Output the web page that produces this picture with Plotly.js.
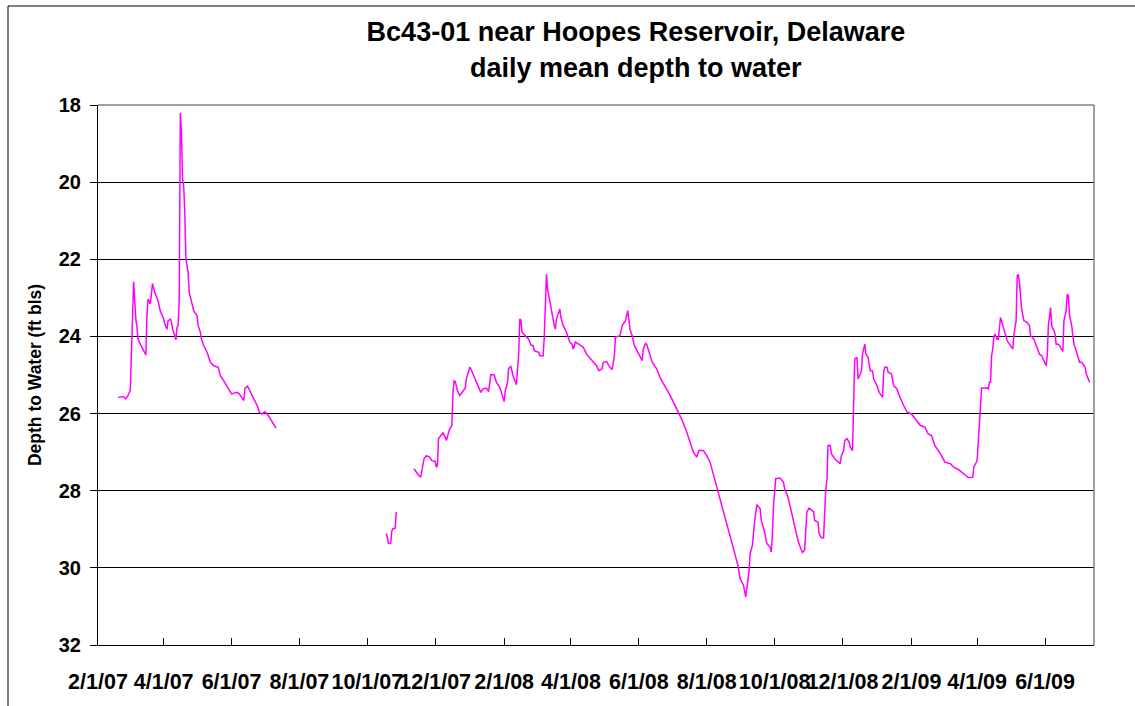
<!DOCTYPE html>
<html>
<head>
<meta charset="utf-8">
<script src="https://cdn.plot.ly/plotly-3.0.1.min.js"></script>
<style>
  html, body { margin: 0; padding: 0; background: #ffffff; }
  #chart { width: 1135px; height: 706px; }
</style>
</head>
<body>
<div id="chart"></div>
<script>
// ---- Data ----
const seg1Dates = ["2007-02-19","2007-02-24","2007-02-26","2007-02-28","2007-03-02","2007-03-03","2007-03-04","2007-03-05","2007-03-06","2007-03-07","2007-03-08","2007-03-09","2007-03-11","2007-03-14","2007-03-16","2007-03-17","2007-03-18","2007-03-20","2007-03-21","2007-03-22","2007-03-24","2007-03-27","2007-03-29","2007-04-01","2007-04-02","2007-04-04","2007-04-05","2007-04-07","2007-04-08","2007-04-09","2007-04-11","2007-04-12","2007-04-13","2007-04-14","2007-04-15","2007-04-16","2007-04-17","2007-04-18","2007-04-19","2007-04-20","2007-04-21","2007-04-23","2007-04-24","2007-04-26","2007-04-28","2007-05-01","2007-05-02","2007-05-04","2007-05-05","2007-05-07","2007-05-10","2007-05-13","2007-05-16","2007-05-20","2007-05-22","2007-05-25","2007-05-29","2007-06-01","2007-06-06","2007-06-08","2007-06-10","2007-06-12","2007-06-13","2007-06-15","2007-06-16","2007-06-18","2007-06-21","2007-06-24","2007-06-26","2007-06-28","2007-07-01","2007-07-04","2007-07-07","2007-07-11"];
const seg1Depth = [25.58,25.56,25.62,25.53,25.40,24.67,23.55,22.58,23.29,23.55,23.76,24.07,24.20,24.37,24.48,23.46,23.03,23.16,22.82,22.63,22.86,23.08,23.34,23.55,23.68,23.81,23.59,23.55,23.64,23.81,23.98,24.09,23.76,23.72,23.03,18.20,18.72,19.93,20.10,20.79,22.00,22.34,22.86,23.12,23.33,23.46,23.72,23.89,24.07,24.24,24.41,24.67,24.76,24.80,25.02,25.15,25.36,25.49,25.45,25.49,25.58,25.66,25.36,25.29,25.32,25.45,25.62,25.79,25.96,26.01,25.95,26.05,26.18,26.38];

const seg2Dates = ["2007-10-18","2007-10-19","2007-10-20","2007-10-22","2007-10-23","2007-10-24","2007-10-26","2007-10-27"];
const seg2Depth = [29.11,29.20,29.37,29.37,29.05,28.98,28.98,28.55];

const seg3Dates = ["2007-11-12","2007-11-16","2007-11-18","2007-11-20","2007-11-21","2007-11-23","2007-11-26","2007-11-28","2007-12-01","2007-12-02","2007-12-03","2007-12-04","2007-12-06","2007-12-08","2007-12-10","2007-12-11","2007-12-14","2007-12-16","2007-12-17","2007-12-18","2007-12-19","2007-12-21","2007-12-23","2007-12-26","2007-12-28","2007-12-29",
"2008-01-01","2008-01-02","2008-01-04","2008-01-07","2008-01-09","2008-01-11","2008-01-13","2008-01-16","2008-01-18","2008-01-19","2008-01-20","2008-01-23","2008-01-25","2008-01-28","2008-01-30","2008-02-01","2008-02-02","2008-02-04","2008-02-05","2008-02-07","2008-02-09","2008-02-12","2008-02-13","2008-02-14","2008-02-15","2008-02-16","2008-02-17","2008-02-20","2008-02-23","2008-02-25","2008-02-27","2008-02-28","2008-03-03","2008-03-04","2008-03-07","2008-03-08","2008-03-09","2008-03-10","2008-03-11","2008-03-13","2008-03-15","2008-03-17","2008-03-18","2008-03-19","2008-03-22","2008-03-23","2008-03-25","2008-03-28","2008-03-31","2008-04-02","2008-04-03","2008-04-05","2008-04-08","2008-04-12","2008-04-15","2008-04-20","2008-04-24","2008-04-26","2008-04-29","2008-04-30","2008-05-03","2008-05-06","2008-05-08","2008-05-10","2008-05-11","2008-05-15","2008-05-17","2008-05-20","2008-05-22","2008-05-23","2008-05-24","2008-05-26","2008-05-28","2008-06-01","2008-06-04","2008-06-05","2008-06-07","2008-06-08","2008-06-10","2008-06-13","2008-06-17","2008-06-20","2008-06-25","2008-06-29","2008-07-05","2008-07-10","2008-07-14","2008-07-17","2008-07-20","2008-07-23","2008-07-25","2008-07-29","2008-08-01","2008-08-04","2008-08-06","2008-08-08","2008-08-11","2008-08-14","2008-08-17","2008-08-20","2008-08-23","2008-08-26","2008-08-29","2008-08-31","2008-09-03","2008-09-05","2008-09-06","2008-09-08","2008-09-09","2008-09-11","2008-09-13","2008-09-15","2008-09-18","2008-09-19","2008-09-22","2008-09-24","2008-09-27","2008-09-28","2008-09-29","2008-09-30","2008-10-02","2008-10-06","2008-10-09","2008-10-10","2008-10-13","2008-10-16","2008-10-19","2008-10-22","2008-10-24","2008-10-26","2008-10-28","2008-10-29","2008-10-30","2008-11-01","2008-11-05","2008-11-06","2008-11-09","2008-11-10","2008-11-12","2008-11-14","2008-11-15","2008-11-16","2008-11-17","2008-11-18","2008-11-20","2008-11-21","2008-11-24","2008-11-27","2008-11-29","2008-11-30","2008-12-02","2008-12-03","2008-12-05","2008-12-07","2008-12-08","2008-12-10","2008-12-11","2008-12-12","2008-12-14","2008-12-15","2008-12-17","2008-12-18","2008-12-19","2008-12-21","2008-12-22","2008-12-24","2008-12-26","2008-12-28","2008-12-29",
"2009-01-01","2009-01-03","2009-01-06","2009-01-07","2009-01-08","2009-01-10","2009-01-11","2009-01-14","2009-01-16","2009-01-19","2009-01-21","2009-01-25","2009-01-28","2009-02-01","2009-02-06","2009-02-09","2009-02-13","2009-02-16","2009-02-19","2009-02-22","2009-02-27","2009-03-03","2009-03-08","2009-03-11","2009-03-15","2009-03-20","2009-03-24","2009-03-28","2009-03-29","2009-04-01","2009-04-02","2009-04-03","2009-04-04","2009-04-05","2009-04-10","2009-04-11","2009-04-12","2009-04-13","2009-04-14","2009-04-15","2009-04-16","2009-04-17","2009-04-19","2009-04-20","2009-04-22","2009-04-24","2009-04-26","2009-04-28","2009-04-30","2009-05-03","2009-05-04","2009-05-05","2009-05-06","2009-05-07","2009-05-08","2009-05-09","2009-05-10","2009-05-11","2009-05-13","2009-05-16","2009-05-18","2009-05-19","2009-05-22","2009-05-24","2009-05-27","2009-05-29","2009-05-31","2009-06-02","2009-06-03","2009-06-04","2009-06-06","2009-06-07","2009-06-09","2009-06-10","2009-06-11","2009-06-13","2009-06-14","2009-06-16","2009-06-17","2009-06-18","2009-06-20","2009-06-21","2009-06-22","2009-06-23","2009-06-25","2009-06-26","2009-06-27","2009-06-29","2009-07-01","2009-07-02","2009-07-04","2009-07-07","2009-07-08","2009-07-10","2009-07-11"];
const seg3Depth = [27.43,27.60,27.65,27.35,27.17,27.09,27.13,27.22,27.24,27.39,27.35,26.65,26.57,26.50,26.61,26.70,26.40,26.31,25.45,25.15,25.17,25.40,25.53,25.40,25.34,25.10,
24.80,24.84,24.97,25.19,25.32,25.45,25.36,25.34,25.43,25.19,24.99,25.00,25.19,25.32,25.49,25.69,25.40,25.19,24.83,24.78,25.02,25.25,24.84,24.50,23.55,23.57,23.89,23.98,24.07,24.22,24.24,24.37,24.41,24.50,24.50,24.02,23.21,22.39,22.77,23.12,23.46,23.72,23.81,23.55,23.29,23.51,23.72,23.89,24.15,24.20,24.33,24.15,24.20,24.28,24.46,24.63,24.76,24.89,24.84,24.67,24.65,24.80,24.86,24.50,24.02,23.98,23.72,23.59,23.33,23.55,23.81,23.98,24.24,24.46,24.63,24.33,24.18,24.20,24.41,24.67,24.84,25.06,25.32,25.52,25.88,26.18,26.48,26.74,27.00,27.13,26.96,26.96,27.09,27.26,27.47,27.73,28.03,28.29,28.64,28.98,29.24,29.59,29.93,30.28,30.45,30.75,30.54,30.10,29.63,29.42,28.81,28.36,28.47,28.77,29.07,29.37,29.46,29.59,29.16,28.38,27.69,27.67,27.78,27.95,28.16,28.55,28.90,29.29,29.46,29.60,29.54,28.90,28.55,28.45,28.54,28.77,28.81,29.11,29.22,29.22,28.55,27.95,27.73,26.83,26.83,27.04,27.17,27.26,27.30,27.09,26.96,26.70,26.65,26.74,26.87,26.96,25.79,24.58,24.54,25.10,24.97,24.89,24.46,24.20,24.46,24.54,24.89,24.89,25.10,
25.28,25.45,25.58,24.93,24.80,24.80,24.93,24.97,25.28,25.36,25.53,25.79,25.96,26.01,26.18,26.31,26.35,26.53,26.57,26.83,27.04,27.26,27.30,27.39,27.45,27.56,27.66,27.65,27.39,27.22,26.70,26.22,25.71,25.34,25.34,25.36,25.19,25.19,24.50,24.33,24.02,23.94,24.07,24.07,23.51,23.72,23.89,24.11,24.20,24.33,23.98,23.72,23.59,22.43,22.39,22.60,22.86,23.29,23.59,23.64,23.72,23.98,24.07,24.24,24.46,24.50,24.63,24.76,24.50,23.72,23.25,23.72,23.85,23.94,24.20,24.20,24.24,24.37,24.39,23.59,23.33,22.90,22.95,23.46,23.72,23.98,24.20,24.37,24.63,24.67,24.67,24.80,24.97,25.10,25.19];

const xTickDates  = ["2007-02-01","2007-04-01","2007-06-01","2007-08-01","2007-10-01","2007-12-01","2008-02-01","2008-04-01","2008-06-01","2008-08-01","2008-10-01","2008-12-01","2009-02-01","2009-04-01","2009-06-01"];
const xTickLabels = ["2/1/07","4/1/07","6/1/07","8/1/07","10/1/07","12/1/07","2/1/08","4/1/08","6/1/08","8/1/08","10/1/08","12/1/08","2/1/09","4/1/09","6/1/09"];
const yTickValues = [18,20,22,24,26,28,30,32];
const xRange = ["2007-02-01","2009-07-15"];
const yRange = [32,18];

const titleLine1 = "Bc43-01 near Hoopes Reservoir, Delaware";
const titleLine2 = "daily mean depth to water";
const yTitle = "Depth to Water (ft bls)";

// ---- Chart ----
const FONT = "Liberation Sans, Arial, Helvetica, sans-serif";
const lineStyle = { color: "#FF00FF", width: 1.5 };

function seg(x, y) {
  return { type: "scatter", mode: "lines", x: x, y: y, line: lineStyle,
           hoverinfo: "skip", showlegend: false };
}

const traces = [seg(seg1Dates, seg1Depth), seg(seg2Dates, seg2Depth), seg(seg3Dates, seg3Depth)];

const TITLE_X = (636 - 98) / 996;

const layout = {
  width: 1135, height: 706,
  margin: { l: 98, r: 41, t: 105, b: 61, pad: 0 },
  paper_bgcolor: "#ffffff", plot_bgcolor: "#ffffff",
  font: { family: FONT, color: "#000000" },
  showlegend: false,
  title: {
    text: titleLine1,
    font: { family: FONT, size: 27, weight: "bold", color: "#000" },
    x: TITLE_X, xref: "paper", xanchor: "center",
    y: 1 - 32 / 706, yref: "container", yanchor: "middle"
  },
  annotations: [{
    text: titleLine2, showarrow: false,
    xref: "paper", yref: "paper", x: TITLE_X, y: (645 - 68) / 540,
    xanchor: "center", yanchor: "middle",
    font: { family: FONT, size: 27, weight: "bold", color: "#000" }
  }],
  xaxis: {
    type: "date", range: xRange, autorange: false,
    tickmode: "array", tickvals: xTickDates, ticktext: xTickLabels,
    tickangle: 0,
    ticks: "inside", ticklen: 7, tickwidth: 1, tickcolor: "#000",
    showline: true, linecolor: "#000", linewidth: 1,
    showgrid: false, zeroline: false,
    tickfont: { family: FONT, size: 21.5, weight: "bold", color: "#000" },
    ticklabelstandoff: 17,
    fixedrange: true
  },
  yaxis: {
    range: yRange, autorange: false,
    tickmode: "array", tickvals: yTickValues, ticktext: yTickValues.map(String),
    ticks: "outside", ticklen: 7, tickwidth: 1, tickcolor: "#000",
    showline: true, linecolor: "#000", linewidth: 1,
    showgrid: true, gridcolor: "#000", gridwidth: 1, zeroline: false,
    tickfont: { family: FONT, size: 20, weight: "bold", color: "#000" },
    ticklabelstandoff: 5,
    title: { text: yTitle, standoff: 12,
             font: { family: FONT, size: 17.5, weight: "bold", color: "#000" } },
    fixedrange: true
  },
  shapes: [
    // grey plot-area border on top and right
    { type: "line", xref: "paper", yref: "paper", x0: 0, x1: 1, y0: 1, y1: 1,
      line: { color: "#808080", width: 1.5 }, layer: "above" },
    { type: "line", xref: "paper", yref: "paper", x0: 1, x1: 1, y0: 0, y1: 1,
      line: { color: "#808080", width: 1.5 }, layer: "above" },
    // outer chart frame (left and top visible)
    { type: "line", xref: "paper", yref: "paper",
      x0: (8 - 98) / 996, x1: (8 - 98) / 996, y0: (645 - 6) / 540, y1: -0.2,
      line: { color: "#000", width: 1 }, layer: "above" },
    { type: "line", xref: "paper", yref: "paper",
      x0: (8 - 98) / 996, x1: 1.1, y0: (645 - 6) / 540, y1: (645 - 6) / 540,
      line: { color: "#000", width: 1 }, layer: "above" }
  ],
  hovermode: false
};

Plotly.newPlot("chart", traces, layout, { displayModeBar: false, staticPlot: true });
</script>
</body>
</html>
